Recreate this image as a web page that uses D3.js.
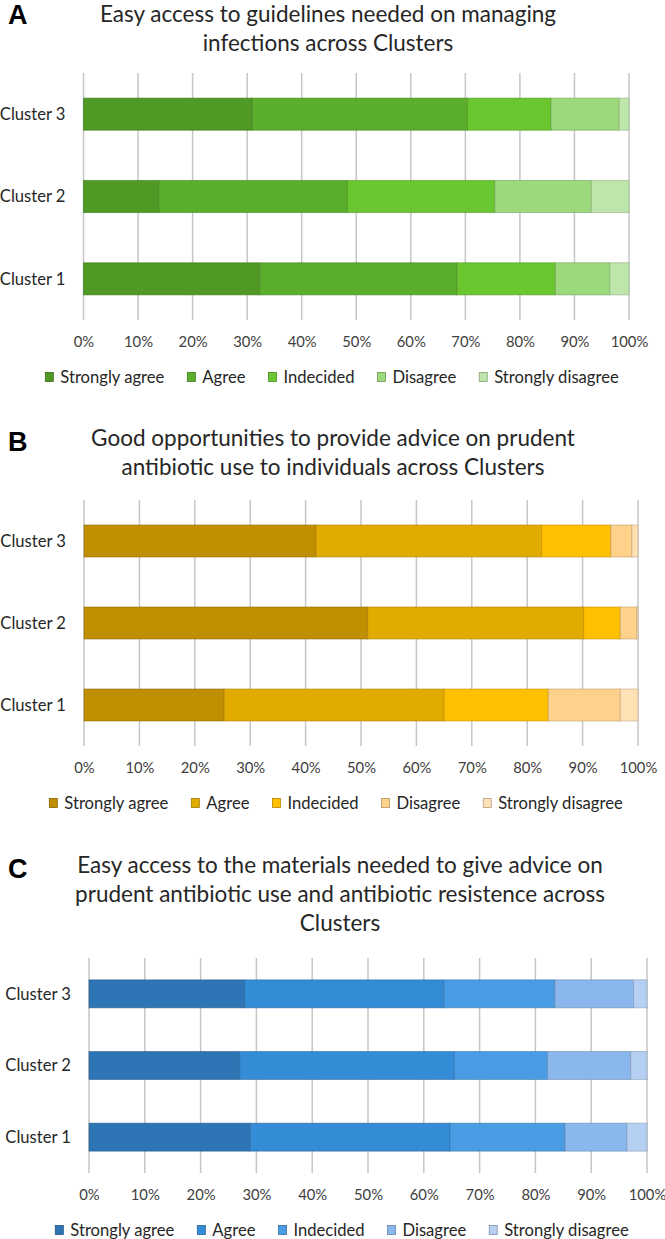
<!DOCTYPE html>
<html>
<head>
<meta charset="utf-8">
<script src="https://cdn.jsdelivr.net/npm/d3@7"></script>
<style>
  html, body { margin: 0; padding: 0; background: #ffffff; }
  svg { display: block; }
</style>
</head>
<body>
<svg id="chart" width="665" height="1239"></svg>
<script>
// ---------- DATA ----------
const clusters = ["Cluster 1", "Cluster 2", "Cluster 3"];
const responses = ["Strongly agree", "Agree", "Indecided", "Disagree", "Strongly disagree"];
const tickValues = [0, 10, 20, 30, 40, 50, 60, 70, 80, 90, 100];
const tickLabels = ["0%", "10%", "20%", "30%", "40%", "50%", "60%", "70%", "80%", "90%", "100%"];

// Panel A: rows = Cluster 1, Cluster 2, Cluster 3 ; columns = responses (%)
const guidelinesCluster1 = [32.3, 36.2, 18.0, 10.0, 3.5];
const guidelinesCluster2 = [13.8, 34.6, 27.0, 17.7, 6.9];
const guidelinesCluster3 = [30.9, 39.5, 15.3, 12.5, 1.8];

// Panel B
const adviceCluster1 = [25.3, 39.7, 18.8, 13.0, 3.2];
const adviceCluster2 = [51.2, 39.0, 6.6, 3.0, 0.2];
const adviceCluster3 = [41.9, 40.7, 12.5, 3.8, 1.1];

// Panel C
const materialsCluster1 = [28.9, 35.8, 20.6, 11.1, 3.6];
const materialsCluster2 = [27.0, 38.5, 16.7, 14.9, 2.9];
const materialsCluster3 = [27.9, 35.7, 19.9, 14.1, 2.4];

const titleA = ["Easy access to guidelines needed on managing", "infections across Clusters"];
const titleB = ["Good opportunities to provide advice on prudent", "antibiotic use to individuals across Clusters"];
const titleC = ["Easy access to the materials needed to give advice on", "prudent antibiotic use and antibiotic resistence across", "Clusters"];

const greens  = ["#4f9a24", "#5bad2c", "#6ac72f", "#9bd97c", "#bfe6aa"];
const golds   = ["#bf8f00", "#e2ab00", "#ffc000", "#ffd28b", "#ffe1b6"];
const blues   = ["#2e75b6", "#348bd6", "#4a9de5", "#8ab8ec", "#b5d0f3"];

// ---------- LAYOUT ----------
const FONT = "Lato, 'Open Sans', sans-serif";
const svg = d3.select("#chart");
svg.append("rect").attr("width", 665).attr("height", 1239).attr("fill", "#fff");

const panels = [
  { letter: "A", letterBase: 24, title: titleA, titleY: 14, titleCx: 328,
    rows: [guidelinesCluster1, guidelinesCluster2, guidelinesCluster3], colors: greens,
    x0: 83.5, x1: 629, gridTop: 73, gridBottom: 320, tickY: 342, legendY: 377, legendCx: 332 },
  { letter: "B", letterBase: 451, title: titleB, titleY: 438, titleCx: 333,
    rows: [adviceCluster1, adviceCluster2, adviceCluster3], colors: golds,
    x0: 84, x1: 638, gridTop: 500, gridBottom: 746, tickY: 768, legendY: 803, legendCx: 336 },
  { letter: "C", letterBase: 878, title: titleC, titleY: 865, titleCx: 340,
    rows: [materialsCluster1, materialsCluster2, materialsCluster3], colors: blues,
    x0: 89, x1: 647, gridTop: 958, gridBottom: 1173, tickY: 1195, legendY: 1230, legendCx: 342 }
];

panels.forEach(p => {
  const g = svg.append("g");

  // panel letter
  g.append("text").attr("x", 8).attr("y", p.letterBase)
    .attr("font-family", "'Liberation Sans', Arial, sans-serif")
    .attr("font-weight", "bold").attr("font-size", 27).attr("fill", "#000")
    .text(p.letter);

  // title
  p.title.forEach((line, i) => {
    g.append("text").attr("x", p.titleCx).attr("y", p.titleY + i * 29)
      .attr("dy", "0.35em").attr("text-anchor", "middle")
      .attr("font-family", FONT).attr("font-size", 22.5).attr("fill", "#262626")
      .text(line);
  });

  // data table
  const table = clusters.map((c, i) => {
    const o = { cluster: c };
    responses.forEach((r, j) => o[r] = p.rows[i][j]);
    return o;
  });
  const series = d3.stack().keys(responses)(table);

  const x = d3.scaleLinear().domain([0, 100]).range([p.x0, p.x1]);
  const y = d3.scaleBand().domain(["Cluster 3", "Cluster 2", "Cluster 1"])
    .range([p.gridTop, p.gridBottom]).paddingInner(0.61).paddingOuter(0.305);

  // gridlines
  g.append("g").selectAll("line").data(tickValues).join("line")
    .attr("x1", d => x(d)).attr("x2", d => x(d))
    .attr("y1", p.gridTop).attr("y2", p.gridBottom)
    .attr("stroke", "#c6c6c6").attr("stroke-width", 1.5);

  // tick labels via axis
  const ax = g.append("g").attr("transform", `translate(0,${p.tickY})`)
    .call(d3.axisBottom(x).tickValues(tickValues).tickSize(0)
      .tickFormat((d, i) => tickLabels[i]));
  ax.select(".domain").remove();
  ax.selectAll("text").attr("y", 0).attr("dy", "0.35em")
    .attr("font-family", FONT).attr("font-size", 14.8).attr("fill", "#404040");

  // category labels via axis
  const ay = g.append("g").attr("transform", `translate(${p.x0 - 18},0)`)
    .call(d3.axisLeft(y).tickSize(0).tickPadding(0));
  ay.select(".domain").remove();
  ay.selectAll("text").attr("x", 0).attr("dy", "0.35em")
    .attr("font-family", FONT).attr("font-size", 16.6).attr("fill", "#262626");

  // bars
  g.append("g").selectAll("g").data(series).join("g")
    .attr("fill", (d, i) => p.colors[i])
    .attr("stroke", (d, i) => d3.color(p.colors[i]).darker(0.9))
    .attr("stroke-opacity", 0.55)
    .attr("stroke-width", 1)
    .selectAll("rect").data(d => d).join("rect")
    .attr("x", d => x(d[0]))
    .attr("width", d => Math.max(0, x(d[1]) - x(d[0])))
    .attr("y", d => y(d.data.cluster))
    .attr("height", y.bandwidth());

  // legend
  const lg = g.append("g");
  let cursor = 0;
  responses.forEach((r, i) => {
    const item = lg.append("g").attr("transform", `translate(${cursor},0)`);
    item.append("rect").attr("x", 0).attr("y", -4.5).attr("width", 8).attr("height", 9)
      .attr("fill", p.colors[i]).attr("stroke", d3.color(p.colors[i]).darker(1))
      .attr("stroke-width", 0.8);
    const t = item.append("text").attr("x", 15).attr("y", 0).attr("dy", "0.35em")
      .attr("font-family", FONT).attr("font-size", 16.6).attr("fill", "#262626").text(r);
    const w = t.node().getComputedTextLength();
    cursor += 15 + w + 23;
  });
  const total = cursor - 23;
  lg.attr("transform", `translate(${p.legendCx - total / 2},${p.legendY})`);
});
</script>
</body>
</html>
